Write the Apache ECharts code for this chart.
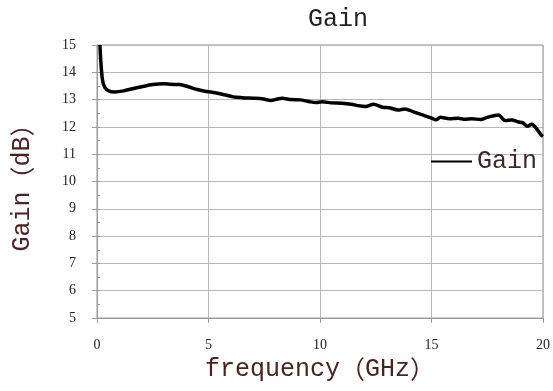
<!DOCTYPE html>
<html>
<head>
<meta charset="utf-8">
<script src="https://cdn.jsdelivr.net/npm/echarts@6/dist/echarts.min.js"></script>
<style>html,body{margin:0;padding:0;background:#fff}#c{width:553px;height:391px}</style>
</head>
<body>
<div id="c"></div>
<script>
var titleText = 'Gain';
var seriesName = 'Gain';
var xNameParts = ['frequency', '（', 'GHz', '）'];
var yNameParts = ['Gain', '（', 'dB', '）'];
var xTicks = [0, 5, 10, 15, 20];
var yTicks = [5, 6, 7, 8, 9, 10, 11, 12, 13, 14, 15];
var freq = [0.13, 0.18, 0.25, 0.35, 0.5, 0.8, 1.2, 1.6, 2.0, 2.5, 3.0, 3.3, 3.7, 4.1, 4.5, 4.9, 5.3, 5.7, 6.1, 6.5, 7.0, 7.4, 7.8, 8.0, 8.3, 8.7, 9.1, 9.5, 9.8, 10.1, 10.5, 11.0, 11.4, 11.7, 12.05, 12.4, 12.8, 13.1, 13.5, 13.8, 14.2, 14.6, 15.0, 15.2, 15.4, 15.8, 16.2, 16.5, 16.8, 17.2, 17.5, 18.0, 18.3, 18.6, 18.9, 19.1, 19.3, 19.5, 19.7, 19.9, 20.0];
var gain = [15.0, 14.3, 13.7, 13.45, 13.33, 13.28, 13.32, 13.4, 13.47, 13.55, 13.58, 13.56, 13.55, 13.47, 13.37, 13.3, 13.25, 13.18, 13.1, 13.07, 13.05, 13.03, 12.97, 13.0, 13.05, 13.0, 12.99, 12.93, 12.89, 12.92, 12.88, 12.87, 12.83, 12.78, 12.75, 12.83, 12.72, 12.7, 12.62, 12.66, 12.55, 12.44, 12.32, 12.26, 12.35, 12.3, 12.32, 12.28, 12.3, 12.27, 12.35, 12.44, 12.23, 12.25, 12.18, 12.15, 12.02, 12.1, 11.95, 11.72, 11.65];

var data = freq.map(function (f, i) { return [f, gain[i]]; });
var titleFont = 'Liberation Mono, Noto Sans CJK SC, monospace';
var cjkFont = 'Noto Sans CJK SC';
var tickFont = 'Liberation Serif, serif';
function richName(parts) {
  return '{a|' + parts[0] + '}{b|' + parts[1] + '}{a|' + parts[2] + '}{b|' + parts[3] + '}';
}
var nameRich = {
  a: { fontFamily: titleFont, fontSize: 25, color: '#4a2222' },
  b: { fontFamily: cjkFont, fontSize: 25, color: '#4a2222' }
};

var chart = echarts.init(document.getElementById('c'));
chart.setOption({
  animation: false,
  backgroundColor: '#fff',
  title: {
    text: titleText, left: 303, top: 2,
    textStyle: { fontFamily: titleFont, fontSize: 25, fontWeight: 'normal', color: '#222' }
  },
  legend: {
    data: [{ name: seriesName, icon: 'rect' }],
    left: 426, top: 144, itemWidth: 41, itemHeight: 2, itemGap: 6,
    textStyle: { fontFamily: titleFont, fontSize: 25, color: '#3b2828', padding: [0, 0, 0, 0] }
  },
  grid: { left: 97, right: 8, top: 45, bottom: 73, show: true, borderColor: '#999', borderWidth: 1 },
  xAxis: {
    type: 'value', min: xTicks[0], max: xTicks[xTicks.length - 1], interval: 5,
    name: richName(xNameParts), nameLocation: 'middle', nameGap: 30,
    nameTextStyle: { fontFamily: titleFont, fontSize: 25, color: '#4a2222', rich: nameRich },
    axisLine: { show: true, lineStyle: { color: '#999', width: 1 } },
    axisTick: { show: true, length: 5, lineStyle: { color: '#999' } },
    axisLabel: { margin: 20, fontFamily: tickFont, fontSize: 14, color: '#222' },
    splitLine: { show: true, lineStyle: { color: '#b8b8b8', width: 1 } }
  },
  yAxis: [{
    type: 'value', min: yTicks[0], max: yTicks[yTicks.length - 1], interval: 1,
    name: richName(yNameParts), nameLocation: 'middle', nameGap: 62,
    nameTextStyle: { fontFamily: titleFont, fontSize: 25, color: '#4a2222', rich: nameRich },
    axisLine: { show: true, lineStyle: { color: '#999', width: 1 } },
    axisTick: { show: true, length: 5, lineStyle: { color: '#999' } },
    axisLabel: { margin: 21, fontFamily: tickFont, fontSize: 14, color: '#222' },
    splitLine: { show: true, lineStyle: { color: '#b8b8b8', width: 1 } }
  }, {
    type: 'value', position: 'left', min: yTicks[0], max: yTicks[yTicks.length - 1], interval: 0.5,
    axisLine: { show: false },
    axisTick: { show: true, inside: true, length: 3, lineStyle: { color: '#999' } },
    axisLabel: { show: false },
    splitLine: { show: false }
  }],
  series: [{
    name: seriesName, type: 'line', data: data, yAxisIndex: 0,
    showSymbol: false, smooth: 0.3, clip: true,
    lineStyle: { color: '#000', width: 3.5 },
    itemStyle: { color: '#000' }
  }]
});
</script>
</body>
</html>
